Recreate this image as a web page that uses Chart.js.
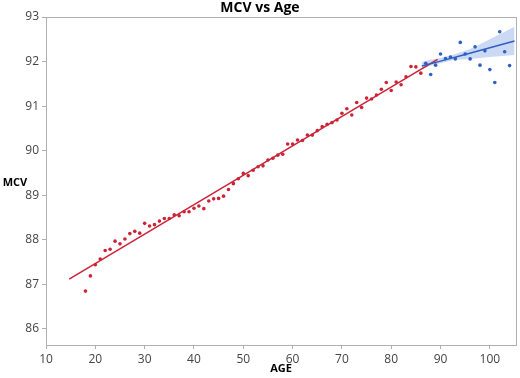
<!DOCTYPE html>
<html>
<head>
<meta charset="utf-8">
<script src="https://cdn.jsdelivr.net/npm/chart.js@4/dist/chart.umd.min.js"></script>
<style>
  html, body { margin: 0; padding: 0; background: #fff; }
  #wrap { width: 520px; height: 378px; position: relative; }
</style>
</head>
<body>
<div id="wrap"><canvas id="c" width="520" height="378"></canvas></div>
<script>
// ---- data ----
const redAges = [18,19,20,21,22,23,24,25,26,27,28,29,30,31,32,33,34,35,36,37,38,39,40,41,42,43,44,45,46,47,48,49,50,51,52,53,54,55,56,57,58,59,60,61,62,63,64,65,66,67,68,69,70,71,72,73,74,75,76,77,78,79,80,81,82,83,84,85,86];
const redMCV = [86.85,87.19,87.44,87.57,87.76,87.79,87.97,87.91,88.02,88.14,88.19,88.15,88.37,88.31,88.34,88.42,88.48,88.48,88.56,88.54,88.63,88.63,88.71,88.76,88.70,88.87,88.92,88.93,88.98,89.13,89.26,89.37,89.49,89.44,89.56,89.64,89.66,89.79,89.83,89.90,89.92,90.15,90.15,90.24,90.23,90.35,90.35,90.45,90.54,90.59,90.63,90.69,90.84,90.94,90.80,91.08,90.97,91.18,91.16,91.25,91.38,91.53,91.35,91.54,91.48,91.66,91.89,91.88,91.74];
const blueAges = [87,88,89,90,91,92,93,94,95,96,97,98,99,100,101,102,103,104];
const blueMCV = [91.96,91.71,91.92,92.17,92.07,92.10,92.06,92.43,92.17,92.06,92.33,91.92,92.24,91.82,91.53,92.67,92.22,91.91];

const redFitAges = [14.7, 89.4];
const redFitMCV = [87.12, 92.05];

const blueFitAges = [86.2, 90, 95, 100, 105];
const blueFitMCV = [91.90, 92.01, 92.16, 92.31, 92.46];
const bandAges = [86.2, 88, 90, 93, 96, 100, 105];
const bandLow = [91.83, 91.91, 91.96, 92.04, 92.06, 92.10, 92.15];
const bandHigh = [91.99, 92.04, 92.08, 92.17, 92.28, 92.50, 92.78];

const xTicks = [10,20,30,40,50,60,70,80,90,100];
const yTicks = [86,87,88,89,90,91,92,93];

const pts = (xs, ys) => xs.map((x, i) => ({x: x, y: ys[i]}));

const RED = '#cc2236';
const BLUE = '#2f5fc0';

const textPlugin = {
  id: 'texts',
  afterDraw(chart) {
    const ctx = chart.ctx;
    const ca = chart.chartArea;
    ctx.save();
    ctx.strokeStyle = '#b0b0b0';
    ctx.lineWidth = 1;
    ctx.strokeRect(Math.round(ca.left) + 0.5, Math.round(ca.top) + 0.5, Math.round(ca.right - ca.left), Math.round(ca.bottom - ca.top));
    ctx.fillStyle = '#000';
    ctx.textAlign = 'center';
    ctx.textBaseline = 'middle';
    ctx.font = 'bold 14px "Open Sans", "Liberation Sans", sans-serif';
    ctx.fillText('MCV vs Age', 260, 8);
    ctx.font = 'bold 11px "Open Sans", "Liberation Sans", sans-serif';
    ctx.fillText('AGE', (ca.left + ca.right) / 2, 369);
    ctx.fillText('MCV', 15, 183);
    ctx.restore();
  }
};

new Chart(document.getElementById('c'), {
  type: 'scatter',
  data: {
    datasets: [
      { label: 'bandLow', data: pts(bandAges, bandLow), showLine: true, borderWidth: 0, borderColor: 'rgba(0,0,0,0)', pointRadius: 0, fill: false, order: 5 },
      { label: 'bandHigh', data: pts(bandAges, bandHigh), showLine: true, borderWidth: 0, borderColor: 'rgba(0,0,0,0)', pointRadius: 0, fill: '-1', backgroundColor: 'rgba(110,145,225,0.35)', order: 4 },
      { label: 'redFit', data: pts(redFitAges, redFitMCV), showLine: true, borderColor: RED, borderWidth: 1.5, pointRadius: 0, fill: false, order: 3 },
      { label: 'blueFit', data: pts(blueFitAges, blueFitMCV), showLine: true, borderColor: BLUE, borderWidth: 1.5, pointRadius: 0, fill: false, order: 2 },
      { label: 'red', data: pts(redAges, redMCV), pointRadius: 1.8, pointBackgroundColor: RED, pointBorderWidth: 0, order: 1 },
      { label: 'blue', data: pts(blueAges, blueMCV), pointRadius: 1.8, pointBackgroundColor: BLUE, pointBorderWidth: 0, order: 1 }
    ]
  },
  options: {
    responsive: false,
    animation: false,
    layout: { padding: { top: 17, right: 3, left: 0, bottom: 0 } },
    plugins: { legend: { display: false }, tooltip: { enabled: false }, title: { display: false } },
    scales: {
      x: {
        type: 'linear', min: 10, max: 105.3,
        afterFit(s) { s.height = 33; },
        afterBuildTicks(s) { s.ticks = xTicks.map(v => ({value: v})); },
        grid: { display: true, drawOnChartArea: false, drawTicks: true, tickLength: 4, color: '#b0b0b0' },
        border: { display: false },
        ticks: { color: '#444444', font: { size: 12, family: '"Open Sans", "Liberation Sans", sans-serif' }, padding: 3, maxRotation: 0 }
      },
      y: {
        type: 'linear', min: 85.64, max: 93,
        afterFit(s) { s.width = 46; },
        afterBuildTicks(s) { s.ticks = yTicks.map(v => ({value: v})); },
        grid: { display: true, drawOnChartArea: false, drawTicks: true, tickLength: 4, color: '#b0b0b0' },
        border: { display: false },
        ticks: { color: '#444444', font: { size: 12, family: '"Open Sans", "Liberation Sans", sans-serif' }, padding: 3 }
      }
    }
  },
  plugins: [textPlugin]
});
</script>
</body>
</html>
